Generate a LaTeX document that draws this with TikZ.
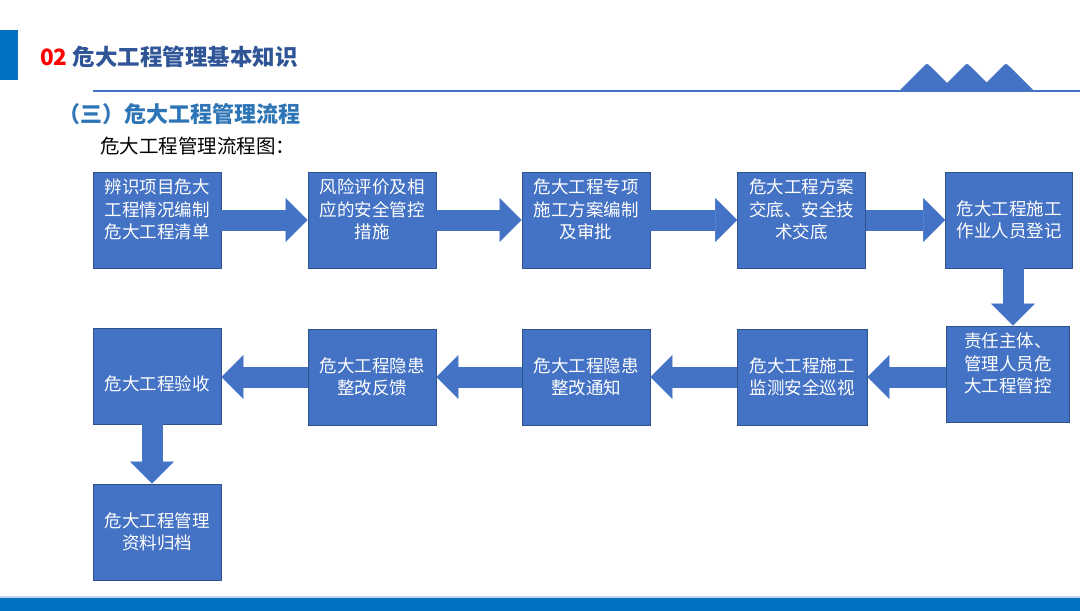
\documentclass[tikz,border=0pt]{standalone}
\usepackage{fontspec}
\setmainfont{Noto Sans CJK SC}
\usetikzlibrary{arrows.meta}
\definecolor{boxblue}{RGB}{68,114,196}
\definecolor{boxline}{RGB}{47,82,143}
\definecolor{barblue}{RGB}{0,112,192}
\definecolor{titleblue}{RGB}{47,85,151}
\definecolor{subblue}{RGB}{46,117,182}
\definecolor{paleblue}{RGB}{189,215,238}
\begin{document}
\begin{tikzpicture}[x=1pt,y=-1pt,
  box/.style={draw=boxline,line width=0.8pt,fill=boxblue,text=white,align=center,
    minimum width=128pt,minimum height=96pt,inner sep=2pt,font=\fontsize{17.5}{22.5}\selectfont},
  flow/.style={draw=boxblue,line width=21pt,-{Triangle[width=44pt,length=22pt,line width=0.4pt]}}]
\useasboundingbox (0,0) rectangle (1080,611);
\fill[barblue] (0,30) rectangle (18,80);
\node[anchor=west,inner sep=0,font=\fontsize{22.5}{27}\selectfont\bfseries] (title) at (40,57) {\textcolor{red}{02} \textcolor{titleblue}{危大工程管理基本知识}};
\foreach \p in {927,967,1006}
  \fill[boxblue] (\p-27,90) -- (\p-4,67) .. controls (\p,63) .. (\p+4,67) -- (\p+27,90) -- cycle;
\draw[boxblue,line width=2pt] (93,91) -- (1080,91);
\node[anchor=west,inner sep=0,text=subblue,font=\fontsize{22}{26}\selectfont\bfseries] (sub) at (58,114) {（三）危大工程管理流程};
\node[anchor=west,inner sep=0,font=\fontsize{19.5}{23}\selectfont] (cap) at (100,146) {危大工程管理流程图：};

\node[box,text depth=22pt] (b1) at (157,220) {辨识项目危大\\工程情况编制\\危大工程清单};
\node[box,text depth=22pt] (b2) at (372,220) {风险评价及相\\应的安全管控\\措施};
\node[box,text depth=22pt] (b3) at (586,220) {危大工程专项\\施工方案编制\\及审批};
\node[box,text depth=22pt] (b4) at (801.5,220) {危大工程方案\\交底、安全技\\术交底};
\node[box,minimum width=127pt] (b5) at (1009,220) {危大工程施工\\作业人员登记};
\node[box,text depth=22pt,minimum width=123pt] (b6) at (1008,374) {责任主体、\\管理人员危\\大工程管控};
\node[box,minimum width=130pt] (b7) at (802,377) {危大工程施工\\监测安全巡视};
\node[box] (b8) at (586,377) {危大工程隐患\\整改通知};
\node[box] (b9) at (372,377) {危大工程隐患\\整改反馈};
\node[box,text height=30pt] (b10) at (157,376) {危大工程验收};
\node[box] (b11) at (157,532) {危大工程管理\\资料归档};

\foreach \a/\b in {b1/b2,b2/b3,b3/b4,b4/b5}
  \draw[flow] (\a.east) -- (\b.west);
\draw[flow] ([xshift=4pt]b5.south) -- ([xshift=4pt]b5.south |- b6.north);
\draw[flow] (b6.west |- b7.east) -- (b7.east);
\foreach \a/\b in {b7/b8,b8/b9}
  \draw[flow] (\a.west) -- (\b.east);
\draw[flow] (b9.west) -- (b9.west -| b10.east);
\draw[flow] ([xshift=-5pt]b10.south) -- ([xshift=-5pt]b10.south |- b11.north);

\fill[paleblue] (0,596) rectangle (1080,598);
\fill[barblue] (0,598) rectangle (1080,611);
\end{tikzpicture}
\end{document}
